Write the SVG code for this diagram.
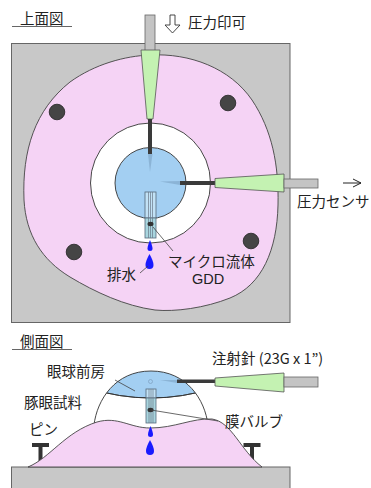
<svg xmlns="http://www.w3.org/2000/svg" width="371" height="488" viewBox="0 0 371 488">
  <defs>
    <style>
      .lbl { font-family: "Noto Sans CJK JP", "Noto Sans", sans-serif; font-size: 14.5px; fill: #222; }
      .latin { font-family: "Liberation Sans", Arial, sans-serif; font-size: 14.5px; fill: #222; }
      .base { fill: #c8c8c8; stroke: #666; stroke-width: 1; }
      .tissue { fill: #f5d3f5; stroke: #444; stroke-width: 0.9; }
      .pin { fill: #454545; stroke: #222; stroke-width: 0.8; }
      .chamber { fill: #a3cff2; stroke: #333; stroke-width: 0.9; }
      .tube { fill: #c4c4c4; stroke: #666; stroke-width: 0.8; }
      .hub { fill: #c4f2b2; stroke: #555; stroke-width: 0.8; }
      .needle { fill: #3a3a3a; }
      .bevel { fill: #6f93b3; opacity: 0.45; }
      .drop { fill: #1a1aff; }
      .lead { stroke: #444; stroke-width: 0.8; fill: none; }
      .chan { stroke: #6a7888; stroke-width: 0.7; }
      .gdd-lo { fill: #a9d6df; stroke: #56697a; stroke-width: 0.8; }
      .gdd-hi { fill: #c2e2f6; stroke: #56697a; stroke-width: 0.8; }
    </style>
    <clipPath id="domeClip">
      <path d="M94,425 C97,400 115,371 151,371 C187,371 205,400 208,425 Z"/>
    </clipPath>
  </defs>

  <!-- ============ top view ============ -->
  <g id="top-title">
    <text class="lbl" x="20" y="23.5">上面図</text>
    <line x1="12" y1="26.5" x2="72" y2="26.5" stroke="#666" stroke-width="1.2"/>
  </g>

  <g id="top-base">
    <rect class="base" x="11.5" y="43.5" width="278.5" height="279"/>
  </g>

  <g id="top-tissue">
    <path class="tissue" d="M150,55 C190,53 230,68 252,100 C272,130 279,165 278,205 C277,250 262,285 230,298 C205,308 175,312 155,310 C125,306 95,292 70,277 C42,260 26,235 24,200 C22,150 35,110 70,82 C95,64 125,56 150,55 Z"/>
  </g>

  <g id="top-pins">
    <circle class="pin" cx="57" cy="112" r="7.8"/>
    <circle class="pin" cx="228" cy="103" r="7.8"/>
    <circle class="pin" cx="74" cy="252" r="7.8"/>
    <circle class="pin" cx="251" cy="241" r="7.8"/>
  </g>

  <g id="top-eye">
    <circle cx="150.5" cy="183" r="60" fill="#ffffff" stroke="#333" stroke-width="0.9"/>
    <circle class="chamber" cx="150.5" cy="183" r="35.5"/>
  </g>

  <g id="top-inlet-needle">
    <rect class="tube" x="145" y="15" width="10" height="36"/>
    <polygon class="hub" points="141,50 160,50 153,119 147,119"/>
    <rect class="needle" x="148" y="119" width="4" height="35"/>
    <polygon class="bevel" points="148,154 152.5,154 150,172"/>
  </g>

  <g id="top-sensor-needle">
    <rect class="needle" x="180" y="181" width="36" height="4"/>
    <polygon class="bevel" points="180,181 180,185 160,181.5"/>
    <polygon class="hub" points="215,178.5 284,174 284,192 215,187.5"/>
    <rect class="tube" x="284" y="179" width="34" height="9"/>
  </g>

  <g id="top-gdd">
    <rect class="gdd-hi" x="145" y="192" width="11" height="26"/>
    <rect class="gdd-lo" x="145" y="218" width="11" height="20"/>
    <line class="chan" x1="148.5" y1="192" x2="148.5" y2="238"/>
    <line class="chan" x1="150.5" y1="192" x2="150.5" y2="238"/>
    <line class="chan" x1="152.5" y1="192" x2="152.5" y2="238"/>
    <ellipse cx="150.5" cy="224" rx="3" ry="2.2" fill="#333"/>
  </g>

  <g id="top-drain">
    <path class="drop" d="M150,240 Q152.5,246 152.5,248.5 A2.5,2.5 0 0 1 147.5,248.5 Q147.5,246 150,240 Z"/>
    <path class="drop" d="M149.5,254 Q153.5,261 153.5,265 A4,4 0 0 1 145.5,265 Q145.5,261 149.5,254 Z"/>
  </g>

  <g id="top-labels">
    <polygon points="170,15 175,15 175,25 180,25 172.5,33 165,25 170,25" fill="#fff" stroke="#333" stroke-width="0.9"/>
    <text class="lbl" x="188" y="27.5">圧力印可</text>
    <line x1="343" y1="183" x2="361" y2="183" stroke="#222" stroke-width="1"/>
    <polyline points="353,179 361,183 353,187" fill="none" stroke="#222" stroke-width="1"/>
    <text class="lbl" x="297" y="206.5">圧力センサ</text>
    <text class="lbl" x="168" y="267">マイクロ流体</text>
    <text class="latin" x="208" y="284" text-anchor="middle">GDD</text>
    <text class="lbl" x="107" y="279.5">排水</text>
  </g>

  <!-- ============ side view ============ -->
  <g id="side-title">
    <text class="lbl" x="20" y="346.5">側面図</text>
    <line x1="12" y1="349.5" x2="72" y2="349.5" stroke="#666" stroke-width="1.2"/>
  </g>

  <g id="side-base">
    <rect class="base" x="11.5" y="467" width="278.5" height="30"/>
  </g>

  <g id="side-pins">
    <rect x="38.5" y="445" width="4" height="22" fill="#333"/>
    <rect x="32" y="443" width="17" height="4" fill="#333"/>
    <rect x="250" y="445" width="4" height="22" fill="#333"/>
    <rect x="243.5" y="443" width="17" height="4" fill="#333"/>
  </g>

  <g id="side-eye">
    <path d="M94,425 C97,400 115,371 151,371 C187,371 205,400 208,425 Z" fill="#ffffff"/>
    <g clip-path="url(#domeClip)">
      <path class="chamber" d="M88,360 L214,360 L214,388 Q151,408 88,388 Z" stroke="none"/>
      <path d="M88,388 Q151,408 214,388" fill="none" stroke="#333" stroke-width="0.9"/>
    </g>
    <path d="M94,425 C97,400 115,371 151,371 C187,371 205,400 208,425" fill="none" stroke="#333" stroke-width="0.9"/>
    <circle cx="150.5" cy="381.5" r="2" fill="none" stroke="#7d9fbf" stroke-width="0.7"/>
  </g>

  <g id="side-tissue">
    <path class="tissue" d="M28,467 C50,458 65,432 97,422 C118,416 130,428 150,428 C175,428 192,418 212,419 C232,422 240,450 262,467 Z"/>
  </g>

  <g id="side-gdd">
    <rect class="gdd-hi" x="146" y="389" width="10" height="9"/>
    <rect class="gdd-lo" x="146" y="398" width="10" height="25"/>
    <line class="chan" x1="149" y1="389" x2="149" y2="423"/>
    <line class="chan" x1="151" y1="389" x2="151" y2="423"/>
    <line class="chan" x1="153" y1="389" x2="153" y2="423"/>
    <ellipse cx="150.5" cy="410" rx="3" ry="2.2" fill="#333"/>
  </g>

  <g id="side-drain">
    <path class="drop" d="M150.5,426 Q153,432 153,434.5 A2.5,2.5 0 0 1 148,434.5 Q148,432 150.5,426 Z"/>
    <path class="drop" d="M150,440 Q154,447 154,451 A4,4 0 0 1 146,451 Q146,447 150,440 Z"/>
  </g>

  <g id="side-needle">
    <polygon class="bevel" points="177,380 177,383 160,380"/>
    <rect class="needle" x="177" y="379.5" width="39" height="3.5"/>
    <polygon class="hub" points="215,378 284,373 284,392 215,386"/>
    <rect class="tube" x="284" y="377" width="34" height="10"/>
  </g>

  <g id="side-labels">
    <text class="lbl" x="212" y="364">注射針 (23G x 1”)</text>
    <text class="lbl" x="47" y="376.5">眼球前房</text>
    <text class="lbl" x="24" y="407.5">豚眼試料</text>
    <text class="lbl" x="29" y="435">ピン</text>
    <text class="lbl" x="225" y="426.5">膜バルブ</text>
  </g>

  <!-- leader lines -->
  <g id="connectors">
    <line class="lead" x1="140" y1="273" x2="148" y2="266"/>
    <line class="lead" x1="153" y1="227" x2="173" y2="251"/>
    <line class="lead" x1="115" y1="380" x2="135" y2="391"/>
    <line class="lead" x1="151" y1="410" x2="218" y2="421"/>
  </g>
</svg>
